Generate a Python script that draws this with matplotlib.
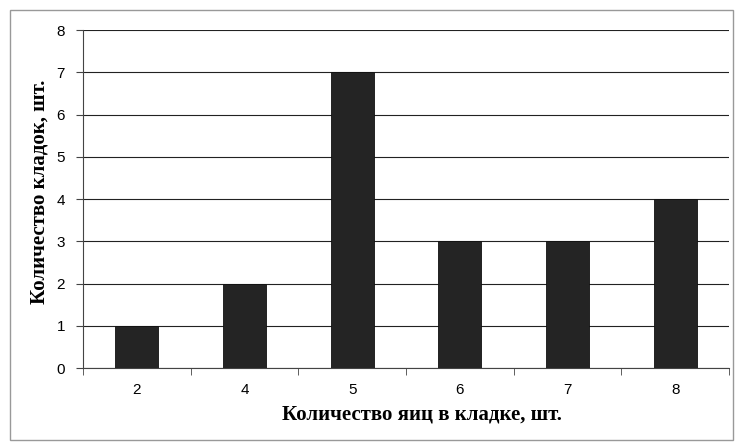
import matplotlib
matplotlib.use("Agg")
import matplotlib.pyplot as plt
from matplotlib.patches import Rectangle

categories = ["2", "4", "5", "6", "7", "8"]
values = [1, 2, 7, 3, 3, 4]
yticks = [0, 1, 2, 3, 4, 5, 6, 7, 8]

fig = plt.figure(figsize=(7.35, 4.42), dpi=100)
fig.patches.append(Rectangle((10/735, 2/442), 723/735, 430/442, transform=fig.transFigure,
                             fill=False, edgecolor="#999999", linewidth=1.0))
ax = fig.add_axes([83/735, 1-368/442, 646/735, 338/442])
x = list(range(len(categories)))
ax.bar(x, values, width=0.4, color="#242424", edgecolor="#111111", linewidth=0.6, zorder=3)
ax.set_xlim(-0.5, len(categories)-0.5)
ax.set_ylim(0, 8)
ax.set_yticks(yticks)
ax.set_yticklabels([str(v) for v in yticks], fontname="Liberation Sans", fontsize=11)
ax.set_xticks(x)
ax.set_xticklabels(categories, fontname="Liberation Sans", fontsize=11)
ax.set_xticks([i - 0.5 for i in range(len(categories)+1)], minor=True)
ax.tick_params(axis="x", which="major", length=0, pad=11)
ax.tick_params(axis="x", which="minor", length=5, direction="out", color="#444444")
ax.tick_params(axis="y", length=5, direction="out", color="#444444", pad=8)
ax.yaxis.grid(True, color="#222222", linewidth=0.8, zorder=0)
for s in ["top", "right"]:
    ax.spines[s].set_visible(False)
ax.spines["left"].set_color("#444444")
ax.spines["bottom"].set_color("#444444")
ax.set_xlabel("Количество яиц в кладке, шт.", fontname="Liberation Serif", fontweight="bold", fontsize=15)
ax.set_ylabel("Количество кладок, шт.", fontname="Liberation Serif", fontweight="bold", fontsize=15)
ax.xaxis.set_label_coords(0.525, -0.108)
ax.yaxis.set_label_coords(-0.052, 0.52)
fig.savefig("out.png", dpi=100)
